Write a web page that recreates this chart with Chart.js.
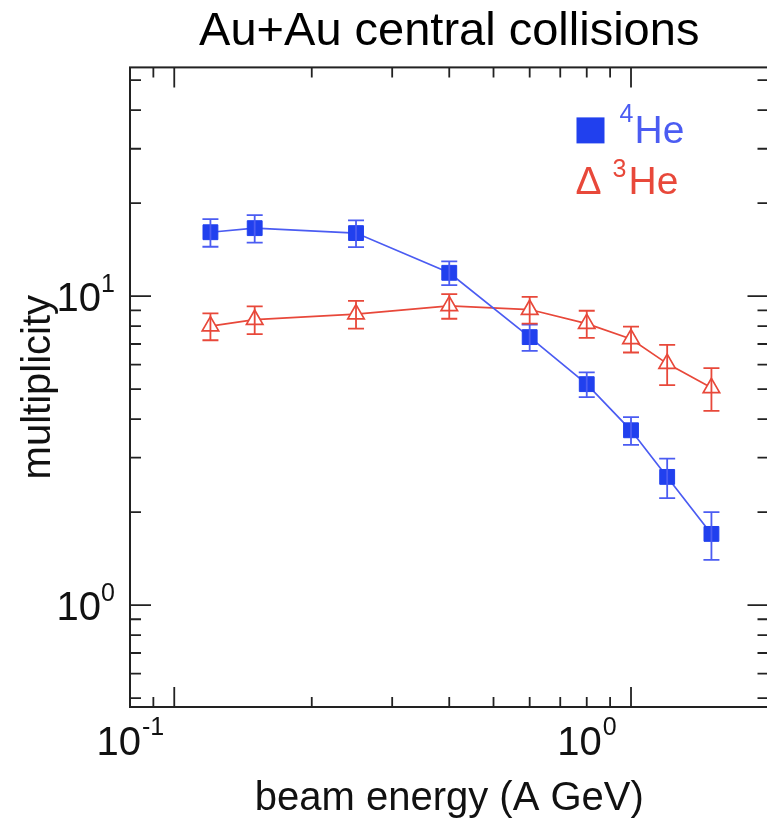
<!DOCTYPE html>
<html><head><meta charset="utf-8">
<script src="https://cdn.jsdelivr.net/npm/chart.js@4.4.1/dist/chart.umd.min.js"></script>
<style>
html,body{margin:0;padding:0;background:#fff;overflow:hidden;}
#wrap{position:relative;width:780px;height:821px;}
canvas{display:block;}
</style></head><body>
<div id="wrap"><canvas id="c" width="780" height="821"></canvas></div>
<script>
// ---- data ----
const energies = [0.12, 0.15, 0.25, 0.4, 0.6, 0.8, 1.0, 1.2, 1.5];
const he4 = [16.1, 16.6, 16.0, 11.9, 7.37, 5.19, 3.68, 2.60, 1.70];
const he4Err = [1.65, 1.7, 1.6, 1.05, 0.72, 0.48, 0.38, 0.38, 0.30];
const he3 = [8.0, 8.4, 8.75, 9.3, 9.05, 8.15, 7.27, 6.05, 5.05];
const he3Err = [0.8, 0.87, 0.9, 0.85, 0.9, 0.82, 0.7, 0.9, 0.8];
const seriesNames = ['He', 'He'];
const seriesMass = ['4', '3'];
const xMajorTicks = [0.1, 1];
const xMajorExp = ['-1', '0'];
const xMinorTicks = [0.09, 0.2, 0.3, 0.4, 0.5, 0.6, 0.7, 0.8, 0.9, 2];
const yMajorTicks = [1, 10];
const yMajorExp = ['0', '1'];
const yMinorTicks = [0.5, 0.6, 0.7, 0.8, 0.9, 2, 3, 4, 5, 6, 7, 8, 9, 20, 30, 40, 50];
const xRange = [0.08, 2];
const yRange = [0.468, 55];

const FONT = '"Liberation Sans", Arial, Helvetica, sans-serif';
const BLUE_LINE = '#4b5cf2';
const BLUE_FILL = '#2140ee';
const RED = '#e8483a';
const AXIS = '#222';

const framePlugin = {
  id: 'frame',
  afterDatasetsDraw(chart) {
    const {ctx, scales: {x, y}} = chart;
    // error bars
    chart.data.datasets.forEach(ds => {
      ctx.save();
      ctx.strokeStyle = ds.borderColor;
      ctx.lineWidth = 1.8;
      ds.data.forEach((p, i) => {
        const px = x.getPixelForValue(p.x);
        const e = ds.errors[i];
        const yHi = y.getPixelForValue(p.y + e);
        const yLo = y.getPixelForValue(p.y - e);
        ctx.beginPath();
        ctx.moveTo(px, yLo); ctx.lineTo(px, yHi);
        ctx.moveTo(px - 8, yLo); ctx.lineTo(px + 8, yLo);
        ctx.moveTo(px - 8, yHi); ctx.lineTo(px + 8, yHi);
        ctx.stroke();
      });
      ctx.restore();
    });
  },
  afterDraw(chart) {
    const {ctx, chartArea: a, scales: {x, y}} = chart;
    ctx.save();
    ctx.strokeStyle = AXIS;
    ctx.lineWidth = 2;
    ctx.strokeRect(a.left, a.top, a.right - a.left, a.bottom - a.top);
    ctx.lineWidth = 1.8;
    const xt = (v, len) => {
      const px = x.getPixelForValue(v);
      ctx.beginPath();
      ctx.moveTo(px, a.bottom); ctx.lineTo(px, a.bottom - len);
      ctx.moveTo(px, a.top); ctx.lineTo(px, a.top + len);
      ctx.stroke();
    };
    const yt = (v, len) => {
      const py = y.getPixelForValue(v);
      ctx.beginPath();
      ctx.moveTo(a.left, py); ctx.lineTo(a.left + len, py);
      ctx.moveTo(a.right, py); ctx.lineTo(a.right - len, py);
      ctx.stroke();
    };
    xMinorTicks.forEach(v => xt(v, 10));
    xMajorTicks.forEach(v => xt(v, 20));
    yMinorTicks.forEach(v => yt(v, 11));
    yMajorTicks.forEach(v => yt(v, 21));

    // tick labels with superscripts
    ctx.fillStyle = '#111';
    ctx.textBaseline = 'alphabetic';
    const big = '40px ' + FONT, small = '25px ' + FONT;
    xMajorTicks.forEach((v, i) => {
      const px = x.getPixelForValue(v);
      ctx.font = big; const wb = ctx.measureText('10').width;
      ctx.font = small; const ws = ctx.measureText(xMajorExp[i]).width;
      const left = px - 44 - (wb + ws + 1) / 2;
      ctx.textAlign = 'left';
      ctx.font = big; ctx.fillText('10', left, a.bottom + 48);
      ctx.font = small; ctx.fillText(xMajorExp[i], left + wb + 1, a.bottom + 28);
    });
    yMajorTicks.forEach((v, i) => {
      const py = y.getPixelForValue(v);
      ctx.font = big; ctx.textAlign = 'right';
      ctx.fillText('10', a.left - 29, py + 14.5);
      ctx.font = small; ctx.textAlign = 'left';
      ctx.fillText(yMajorExp[i], a.left - 29, py - 4);
    });

    // legend
    const lx = a.right - 192, ly = a.top + 50;
    const legendItems = [
      {color: BLUE_FILL, text: BLUE_LINE, mark: 'square'},
      {color: RED, text: RED, mark: 'delta'}
    ];
    legendItems.forEach((it, i) => {
      const base = ly + 26 + i * 51;
      ctx.textAlign = 'left';
      if (it.mark === 'square') {
        ctx.fillStyle = it.color;
        ctx.fillRect(lx, base - 26, 28, 26);
        ctx.fillStyle = it.text;
        ctx.font = small; ctx.fillText(seriesMass[i], lx + 43, base - 21);
        ctx.font = '39px ' + FONT; ctx.fillText(seriesNames[i], lx + 58, base);
      } else {
        ctx.fillStyle = it.text;
        ctx.font = '39px ' + FONT; ctx.fillText('\u0394', lx - 1, base);
        ctx.font = small; ctx.fillText(seriesMass[i], lx + 36, base - 17);
        ctx.font = '39px ' + FONT; ctx.fillText(seriesNames[i], lx + 52, base);
      }
    });
    ctx.restore();
  }
};

new Chart(document.getElementById('c'), {
  type: 'line',
  data: {
    datasets: [
      {
        label: '4He',
        data: energies.map((e, i) => ({x: e, y: he4[i]})),
        errors: he4Err,
        borderColor: BLUE_LINE,
        borderWidth: 1.7,
        pointStyle: 'rect',
        pointRadius: 10.5,
        pointBackgroundColor: BLUE_FILL,
        pointBorderColor: BLUE_FILL,
        pointBorderWidth: 1,
        tension: 0
      },
      {
        label: '3He',
        data: energies.map((e, i) => ({x: e, y: he3[i]})),
        errors: he3Err,
        borderColor: RED,
        borderWidth: 1.7,
        pointStyle: 'triangle',
        pointRadius: 9.5,
        pointBackgroundColor: '#fff',
        pointBorderColor: RED,
        pointBorderWidth: 1.7,
        tension: 0
      }
    ]
  },
  options: {
    responsive: false,
    animation: false,
    devicePixelRatio: 1,
    layout: {padding: {left: 0, right: 9, top: 0, bottom: 0}},
    plugins: {
      legend: {display: false},
      tooltip: {enabled: false},
      title: {
        display: true,
        text: 'Au+Au central collisions',
        fullSize: false,
        color: '#000',
        font: {family: FONT, size: 47, weight: 'normal', lineHeight: 1.2},
        padding: {top: 4, bottom: 7}
      }
    },
    scales: {
      x: {
        type: 'logarithmic',
        min: xRange[0], max: xRange[1],
        grid: {display: false, drawTicks: false},
        border: {display: false},
        ticks: {display: false},
        title: {
          display: true, text: 'beam energy (A GeV)', color: '#111',
          font: {family: FONT, size: 40, weight: 'normal', lineHeight: 1.1},
          padding: {top: 70, bottom: 0}
        }
      },
      y: {
        type: 'logarithmic',
        min: yRange[0], max: yRange[1],
        grid: {display: false, drawTicks: false},
        border: {display: false},
        ticks: {display: false},
        title: {
          display: true, text: 'multiplicity', color: '#111',
          font: {family: FONT, size: 40, weight: 'normal', lineHeight: 1.1},
          padding: {top: 17, bottom: 69}
        }
      }
    }
  },
  plugins: [framePlugin]
});
</script>
</body></html>
